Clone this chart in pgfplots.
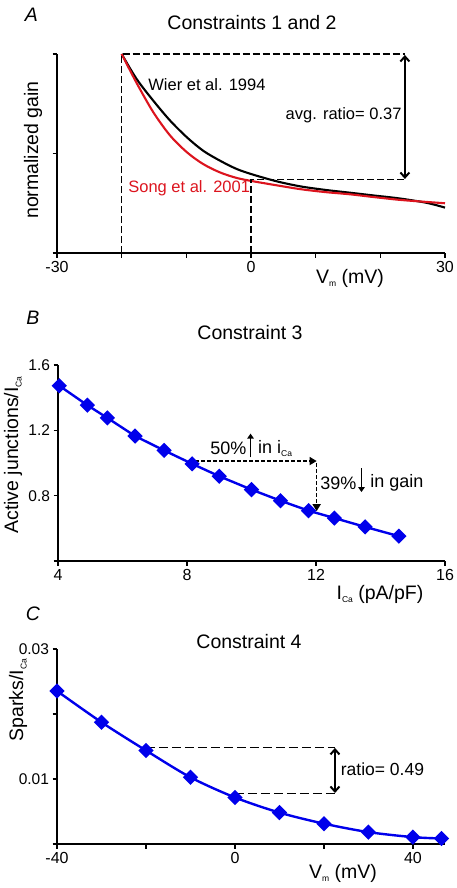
\documentclass[border=0pt]{standalone}
\usepackage{fontspec}
\setmainfont{Liberation Sans}
\usepackage{pgfplots}
\pgfplotsset{compat=1.18}
\usetikzlibrary{arrows.meta}

\definecolor{myblue}{RGB}{0,0,235}
\definecolor{myred}{RGB}{220,20,30}

\newcommand{\sub}[1]{\raisebox{-0.35ex}{\fontsize{8.5}{8.5}\selectfont #1}}
\newcommand{\ttl}{\fontsize{19.5}{19.5}\selectfont}
\newcommand{\ann}{\fontsize{16.5}{16.5}\selectfont}
\newcommand{\annb}{\fontsize{18}{18}\selectfont}

\tikzset{dsh/.style={line width=1.2pt,dash pattern=on 7pt off 3pt}}

\pgfplotsset{
  panel/.style={
    scale only axis,
    anchor=south west,
    axis x line*=bottom,
    axis y line*=left,
    axis line style={line width=1.1pt,-},
    tick align=outside,
    major tick length=4.5pt,
    tick style={line width=1.1pt,black},
    tick label style={font=\fontsize{16}{16}\selectfont},
    yticklabel style={font=\fontsize{15.5}{15.5}\selectfont},
    /pgf/number format/assume math mode=true,
    scaled y ticks=false,
    clip=false,
  },
}

\begin{document}
\begin{tikzpicture}
\path[use as bounding box] (0pt,0pt) rectangle (456pt,-888pt);

%% ---------------- Panel A ----------------
\node[font=\ttl\itshape] at (31.5pt,-15pt) {A};
\node[font=\ttl] at (252pt,-23pt) {Constraints 1 and 2};
\node[font=\ttl,rotate=90] at (33pt,-150pt) {normalized gain};
\node[font=\ttl] at (350pt,-278pt) {V\sub{m} (mV)};

\begin{axis}[panel, at={(57pt,-253pt)}, width=388pt, height=199pt,
  xmin=-30, xmax=30, ymin=0, ymax=1,
  xtick={-30,-20,...,30}, xticklabels={-30,,,0,,,30},
  ytick={0,0.5,1}, yticklabels={,,}]
\addplot[black, line width=2.1pt, smooth] coordinates {
(-20,1.0) (-17.7,0.875) (-15.1,0.765) (-12.5,0.665) (-9.9,0.581) (-7.4,0.514)
(-4.8,0.464) (-2.2,0.422) (0.4,0.393) (4,0.36) (7.6,0.335) (11.5,0.317)
(15.3,0.303) (19,0.289) (23,0.274) (27.2,0.252) (30,0.228)};
\addplot[myred, line width=2.1pt, smooth] coordinates {
(-20,1.0) (-17.7,0.855) (-15.1,0.707) (-12.5,0.59) (-9.9,0.506) (-7.4,0.447)
(-4.8,0.405) (-2.2,0.377) (0.4,0.36) (4,0.34) (7.6,0.321) (11.5,0.306)
(15.3,0.295) (19,0.281) (23,0.267) (27,0.257) (30,0.25)};
\draw[dsh] (axis cs:-20,0) -- (axis cs:-20,1) -- (axis cs:23.8,1);
\draw[dsh] (axis cs:0,0) -- (axis cs:0,0.37) -- (axis cs:23.8,0.37);
\draw[line width=2pt, {Straight Barb[length=5pt,width=9pt]}-{Straight Barb[length=5pt,width=9pt]}]
  (axis cs:23.8,0.995) -- (axis cs:23.8,0.372);
\node[anchor=west, inner sep=0pt, font=\ann] at (axis cs:-15.9,0.844) {Wier et al. 1994};
\node[anchor=west, inner sep=0pt, font=\ann, text=myred] at (axis cs:-19.0,0.325) {Song et al. 2001};
\node[anchor=east, inner sep=0pt, font=\ann] at (axis cs:23.3,0.69) {avg. ratio= 0.37};
\end{axis}

%% ---------------- Panel B ----------------
\node[font=\ttl\itshape] at (33pt,-318pt) {B};
\node[font=\ttl] at (250pt,-333pt) {Constraint 3};
\node[font=\ttl,rotate=90] at (13pt,-455pt) {Active junctions/I\sub{Ca}};
\node[font=\ttl] at (380pt,-594pt) {I\sub{Ca} (pA/pF)};

\begin{axis}[panel, at={(58pt,-561pt)}, width=387pt, height=196pt,
  xmin=4, xmax=16, ymin=0.4, ymax=1.6,
  xtick={4,8,12,16},
  ytick={0.4,0.8,1.2,1.6}, yticklabels={,0.8,1.2,1.6}]
\addplot[myblue, line width=2.4pt, mark=square*, mark size=4.2pt,
  mark options={rotate=45, solid}] coordinates {
(4.04,1.473) (4.91,1.354) (5.53,1.276) (6.39,1.165) (7.29,1.077) (8.16,0.995)
(9.0,0.919) (10.0,0.837) (10.9,0.769) (11.77,0.708) (12.57,0.663) (13.52,0.609) (14.57,0.552)};
\draw[line width=1.5pt, dash pattern=on 4pt off 2pt, -{Triangle[length=7pt,width=8pt]}]
  (axis cs:8.25,1.012) -- (axis cs:12.02,1.012);
\draw[line width=1.5pt, dash pattern=on 4pt off 2pt, -{Triangle[length=7pt,width=8pt]}]
  (axis cs:12.02,1.0) -- (axis cs:12.02,0.705);
\node[anchor=west, inner sep=0pt, font=\annb] at (axis cs:8.72,1.09) {50\%};
\draw[line width=1.8pt, -{Triangle[length=5pt,width=6.5pt]}] (axis cs:9.97,1.035) -- (axis cs:9.97,1.18);
\node[anchor=west, inner sep=0pt, font=\annb] at (axis cs:10.2,1.09) {in i\sub{Ca}};
\node[anchor=west, inner sep=0pt, font=\annb] at (axis cs:12.13,0.878) {39\%};
\draw[line width=1.8pt, -{Triangle[length=5pt,width=6.5pt]}] (axis cs:13.41,0.967) -- (axis cs:13.41,0.822);
\node[anchor=west, inner sep=0pt, font=\annb] at (axis cs:13.68,0.878) {in gain};
\end{axis}

%% ---------------- Panel C ----------------
\node[font=\ttl\itshape] at (33pt,-614pt) {C};
\node[font=\ttl] at (249pt,-642pt) {Constraint 4};
\node[font=\ttl,rotate=90] at (18pt,-700pt) {Sparks/I\sub{Ca}};
\node[font=\ttl] at (343pt,-873pt) {V\sub{m} (mV)};

\begin{axis}[panel, at={(57pt,-844pt)}, width=388pt, height=195pt,
  xmin=-40, xmax=47.2, ymin=0, ymax=0.03,
  xtick={-40,-20,0,20,40}, xticklabels={-40,,0,,40},
  ytick={0,0.01,0.02,0.03}, yticklabels={,0.01,,0.03}]
\addplot[myblue, line width=2.4pt, smooth, mark=square*, mark size=4.2pt,
  mark options={rotate=45, solid}] coordinates {
(-40,0.02354) (-30,0.01873) (-20,0.01439) (-10,0.01026) (0,0.00716)
(10,0.00483) (20,0.00313) (30,0.00183) (40,0.00106) (46.4,0.00085)};
\draw[line width=1.3pt, dash pattern=on 9pt off 4pt] (axis cs:-20,0.01488) -- (axis cs:22.47,0.01488);
\draw[line width=1.3pt, dash pattern=on 9pt off 4pt] (axis cs:0,0.00775) -- (axis cs:22.47,0.00775);
\draw[line width=2pt, {Straight Barb[length=5pt,width=9pt]}-{Straight Barb[length=5pt,width=9pt]}]
  (axis cs:22.47,0.01478) -- (axis cs:22.47,0.00785);
\node[anchor=west, inner sep=0pt, font=\fontsize{17.5}{17.5}\selectfont] at (axis cs:23.75,0.01152) {ratio= 0.49};
\end{axis}
\end{tikzpicture}
\end{document}
